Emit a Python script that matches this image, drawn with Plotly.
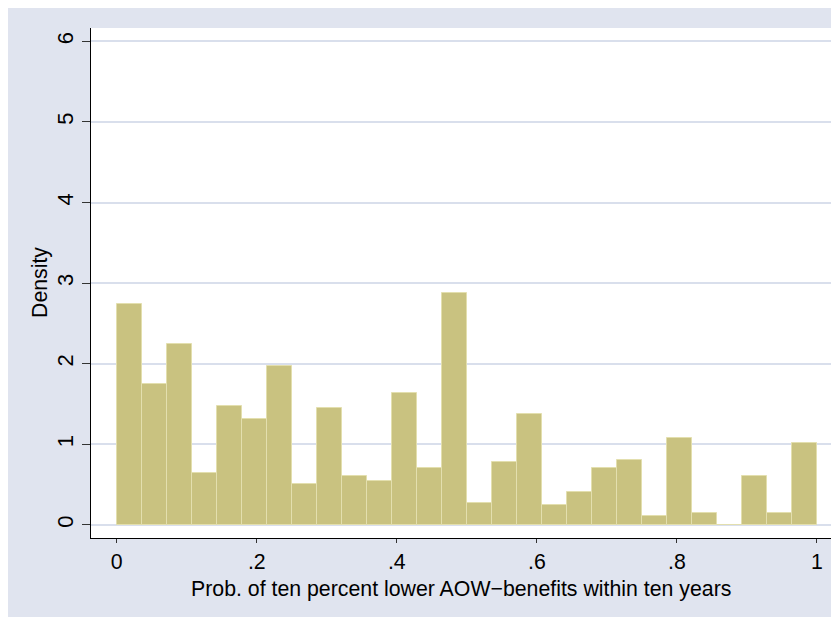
import numpy as np
import plotly.graph_objects as go

# Histogram densities (28 equal-width bins on [0, 1])
density = [2.745, 1.745, 2.246, 0.641, 1.476, 1.311, 1.977, 0.509, 1.447, 0.608,
           0.542, 1.642, 0.711, 2.882, 0.277, 0.778, 1.377, 0.244, 0.409, 0.711,
           0.810, 0.108, 1.076, 0.145, 0.0, 0.612, 0.145, 1.014]
bin_lo, bin_hi = 0.0, 1.0

x_tickvals = [0, 0.2, 0.4, 0.6, 0.8, 1.0]
x_ticktext = ["0", ".2", ".4", ".6", ".8", "1"]
y_tickvals = [0, 1, 2, 3, 4, 5, 6]
y_ticktext = ["0", "1", "2", "3", "4", "5", "6"]

x_title = "Prob. of ten percent lower AOW\u2212benefits within ten years"
y_title = "Density"

nbins = len(density)
edges = np.linspace(bin_lo, bin_hi, nbins + 1)
centers = (edges[:-1] + edges[1:]) / 2
width = edges[1] - edges[0]

# page body has an 8px default margin, so the figure is 8px smaller
W, H = 831, 609
ml, mr, mt, mb = 83, 8, 20, 79

BG = "#E0E4EF"
GRID = "#D9DFEC"
FONT = "Liberation Sans, Arial, Helvetica, sans-serif"
FS = 21.3

fig = go.Figure()
fig.add_trace(go.Bar(
    x=centers, y=density, width=[width] * nbins,
    marker=dict(color="#C9C280", line=dict(color="#E3DFAE", width=1)),
    hoverinfo="x+y", showlegend=False,
))

fig.update_layout(
    width=W, height=H,
    margin=dict(l=ml, r=mr, t=mt, b=mb, pad=0, autoexpand=False),
    paper_bgcolor=BG, plot_bgcolor="white",
    font=dict(family=FONT, size=FS, color="black"),
    bargap=0,
    xaxis=dict(
        range=[-0.0367, 1.02], tickvals=x_tickvals, ticktext=x_ticktext,
        showgrid=False, zeroline=False, automargin=False,
        showline=True, linecolor="black", linewidth=1,
        ticks="outside", ticklen=4, tickwidth=1, tickcolor="#333",
        tickfont=dict(size=FS),
    ),
    yaxis=dict(
        range=[-0.162, 6.166], tickvals=y_tickvals, ticktext=y_ticktext,
        showgrid=True, gridcolor=GRID, gridwidth=2, zeroline=False, automargin=False,
        showline=True, linecolor="black", linewidth=1,
        ticks="outside", ticklen=8, tickwidth=1, tickcolor="#333",
        tickangle=-90, tickfont=dict(size=22),
    ),
    annotations=[
        dict(text=x_title, xref="paper", yref="paper", x=0.5, y=0,
             xanchor="center", yanchor="middle", yshift=-51, showarrow=False,
             font=dict(size=FS)),
        dict(text=y_title, xref="paper", yref="paper", x=0, y=0.5,
             xanchor="center", yanchor="middle", xshift=-51, textangle=-90,
             showarrow=False, font=dict(size=FS)),
    ],
)

fig.write_html("out.html")
